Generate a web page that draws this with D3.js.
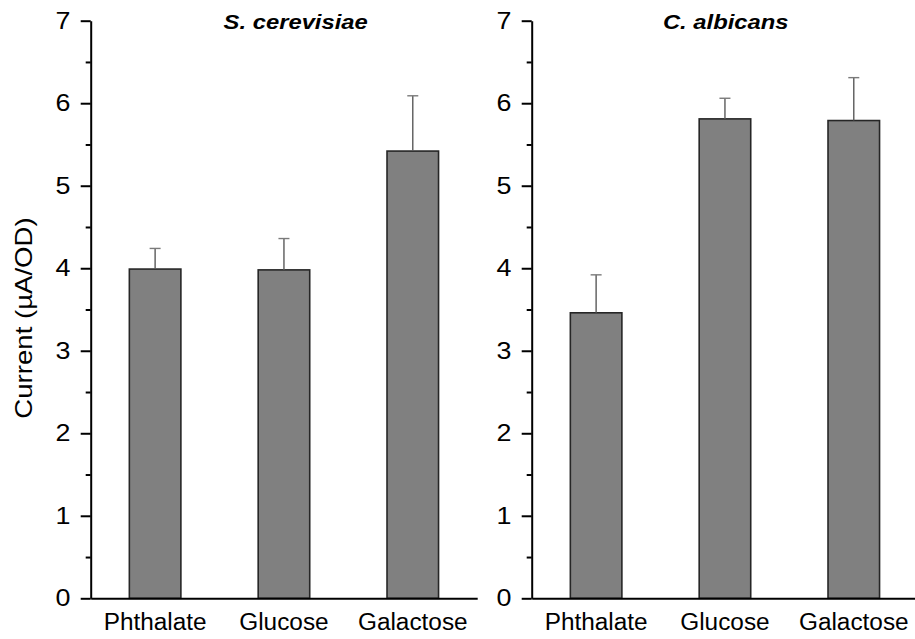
<!DOCTYPE html>
<html>
<head>
<meta charset="utf-8">
<script src="https://cdn.jsdelivr.net/npm/d3@7"></script>
<style>
  body { margin: 0; background: #ffffff; }
  text { font-family: "Liberation Sans", Arial, sans-serif; fill: #000000; }
</style>
</head>
<body>
<div id="chart"></div>
<script>
// values
const categories = ['Phthalate', 'Glucose', 'Galactose'];
const cerevisiaeMeans = [3.99, 3.98, 5.42];
const cerevisiaeErrors = [0.25, 0.38, 0.67];
const albicansMeans = [3.46, 5.81, 5.79];
const albicansErrors = [0.46, 0.25, 0.52];
const majorTicks = [0, 1, 2, 3, 4, 5, 6, 7];
const minorTicks = [0.5, 1.5, 2.5, 3.5, 4.5, 5.5, 6.5];

const width = 915;
const height = 639;
const yTop = 20.7;
const yBottom = 598.3;
const panelWidth = 386.5;

const panels = [
  { title: 'S. cerevisiae', means: cerevisiaeMeans, errors: cerevisiaeErrors, left: 90.7, titleX: 205 },
  { title: 'C. albicans', means: albicansMeans, errors: albicansErrors, left: 531.7, titleX: 194 }
];

const svg = d3.select('#chart')
  .append('svg')
  .attr('width', width)
  .attr('height', height);

const y = d3.scaleLinear()
  .domain([0, 7])
  .range([yBottom, yTop]);

panels.forEach((panel) => {
  const x = d3.scaleBand()
    .domain(categories)
    .range([panel.left, panel.left + panelWidth])
    .paddingInner(0.6)
    .paddingOuter(0.3);

  const g = svg.append('g');

  // bars
  g.selectAll('rect.bar')
    .data(categories)
    .join('rect')
    .attr('class', 'bar')
    .attr('x', (d) => x(d))
    .attr('y', (d, i) => y(panel.means[i]))
    .attr('width', x.bandwidth())
    .attr('height', (d, i) => yBottom - y(panel.means[i]))
    .attr('fill', '#808080')
    .attr('stroke', '#262626')
    .attr('stroke-width', 1.6);

  // upper error bars
  const err = g.selectAll('g.err')
    .data(categories)
    .join('g')
    .attr('class', 'err');

  err.append('line')
    .attr('x1', (d) => x(d) + x.bandwidth() / 2)
    .attr('x2', (d) => x(d) + x.bandwidth() / 2)
    .attr('y1', (d, i) => y(panel.means[i]))
    .attr('y2', (d, i) => y(panel.means[i] + panel.errors[i]))
    .attr('stroke', '#5a5a5a')
    .attr('stroke-width', 1.4);

  err.append('line')
    .attr('x1', (d) => x(d) + x.bandwidth() / 2 - 5.5)
    .attr('x2', (d) => x(d) + x.bandwidth() / 2 + 5.5)
    .attr('y1', (d, i) => y(panel.means[i] + panel.errors[i]))
    .attr('y2', (d, i) => y(panel.means[i] + panel.errors[i]))
    .attr('stroke', '#7a7a7a')
    .attr('stroke-width', 1.4);

  // x axis (no ticks, just the baseline and labels)
  const xAxis = g.append('g')
    .attr('transform', `translate(0,${yBottom})`)
    .call(d3.axisBottom(x).tickSize(0).tickPadding(15).tickSizeOuter(0));
  xAxis.select('.domain').attr('stroke', '#000').attr('stroke-width', 2);
  xAxis.selectAll('text')
    .attr('font-size', 23)
    .attr('transform', 'scale(1.06,1)')
    .style('font-family', '"Liberation Sans", Arial, sans-serif');

  // minor y ticks
  const minorAxis = g.append('g')
    .attr('transform', `translate(${panel.left},0)`)
    .call(d3.axisLeft(y).tickValues(minorTicks).tickSize(5).tickFormat(''));
  minorAxis.select('.domain').remove();
  minorAxis.selectAll('line').attr('stroke', '#000').attr('stroke-width', 2);

  // major y ticks
  const yAxis = g.append('g')
    .attr('transform', `translate(${panel.left},0)`)
    .call(d3.axisLeft(y).tickValues(majorTicks).tickFormat(d3.format('d'))
      .tickSize(10).tickSizeOuter(0).tickPadding(8));
  yAxis.select('.domain').attr('stroke', '#000').attr('stroke-width', 2);
  yAxis.selectAll('line').attr('stroke', '#000').attr('stroke-width', 2);
  yAxis.selectAll('text')
    .attr('font-size', 24)
    .attr('transform', 'scale(1.12,1)')
    .style('font-family', '"Liberation Sans", Arial, sans-serif');

  // panel title
  g.append('text')
    .attr('transform', `translate(${panel.left + panel.titleX},29) scale(1.19,1)`)
    .attr('text-anchor', 'middle')
    .attr('font-size', 20)
    .attr('font-weight', 700)
    .attr('font-style', 'italic')
    .text(panel.title);
});

// y axis title
svg.append('text')
  .attr('transform', 'translate(32,318) rotate(-90) scale(1.2,1)')
  .attr('text-anchor', 'middle')
  .attr('font-size', 23)
  .text('Current (\u00B5A/OD)');
</script>
</body>
</html>
